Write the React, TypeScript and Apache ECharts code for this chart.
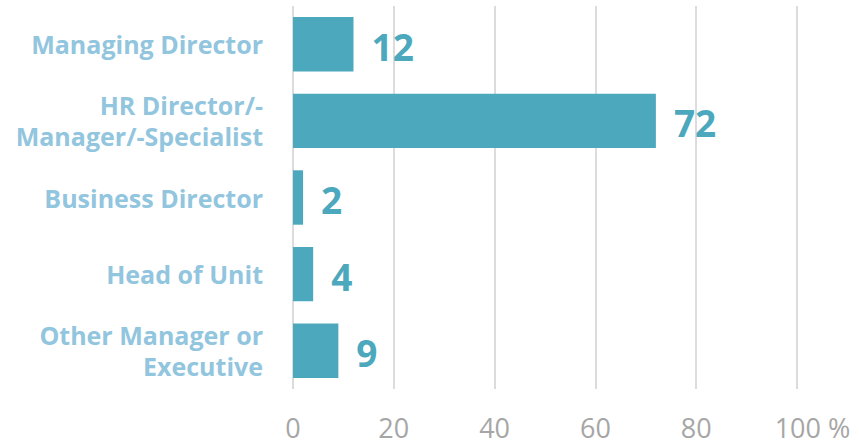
import React, { useEffect, useRef } from "react";
import * as echarts from "echarts";

const categories = [
  "Managing Director",
  "HR Director/-\nManager/-Specialist",
  "Business Director",
  "Head of Unit",
  "Other Manager or\nExecutive",
];
const values = [12, 72, 2, 4, 9];
const xTicks = { min: 0, max: 100, interval: 20 };
const unitLabel = "%";

export default function App() {
  const ref = useRef<HTMLDivElement>(null);
  useEffect(() => {
    document.body.style.margin = "0";
    const chart = echarts.init(ref.current!, null, { renderer: "svg" });
    const font = "'Open Sans', 'Noto Sans', sans-serif";
    chart.setOption({
      animation: false,
      grid: { left: 293, right: 62, top: 6, bottom: 57, containLabel: false },
      xAxis: {
        type: "value",
        min: xTicks.min,
        max: xTicks.max,
        interval: xTicks.interval,
        axisLine: { show: false },
        axisTick: { show: false },
        splitLine: { show: true, lineStyle: { color: "#D0D0D0", width: 1.5 } },
        axisLabel: {
          margin: 24,
          fontSize: 27,
          lineHeight: 28,
          color: "#A6A6A6",
          fontFamily: font,
          formatter: (v: number) =>
            v === xTicks.max ? `{u|${v} ${unitLabel}}` : `${v}`,
          rich: {
            u: {
              fontSize: 27,
              lineHeight: 28,
              color: "#A6A6A6",
              fontFamily: font,
              padding: [0, 0, 0, 31],
            },
          },
        },
      },
      yAxis: {
        type: "category",
        data: categories,
        inverse: true,
        axisLine: { show: false },
        axisTick: { show: false },
        splitLine: { show: false },
        axisLabel: {
          margin: 30,
          fontSize: 25,
          fontWeight: "bold",
          lineHeight: 31,
          color: "#92C5DE",
          fontFamily: font,
        },
      },
      series: [
        {
          type: "bar",
          data: values,
          barCategoryGap: "29%",
          itemStyle: { color: "#4CA8BD" },
          label: {
            show: true,
            position: "right",
            distance: 18,
            fontSize: 37,
            fontWeight: "bold",
            color: "#4CA8BD",
            fontFamily: font,
            offset: [0, 2],
          },
        },
      ],
    });
    return () => chart.dispose();
  }, []);
  return (
    <div
      ref={ref}
      style={{ width: 859, height: 446, position: "absolute", left: 0, top: 0 }}
    />
  );
}
